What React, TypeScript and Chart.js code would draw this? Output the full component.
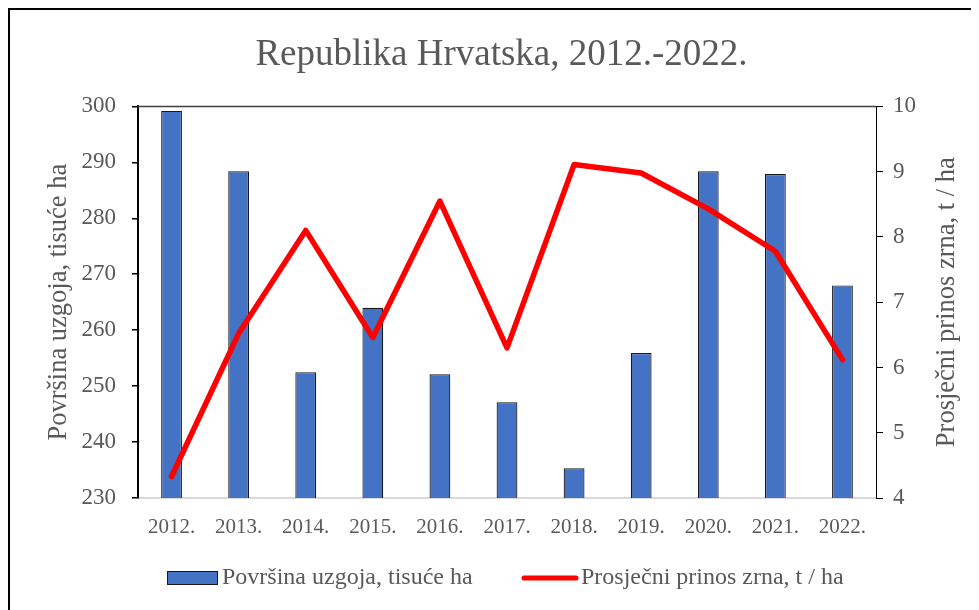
import React, { useEffect, useRef } from "react";
import { Chart, registerables } from "chart.js";

Chart.register(...registerables);

const years = ["2012.", "2013.", "2014.", "2015.", "2016.", "2017.", "2018.", "2019.", "2020.", "2021.", "2022."];
const areaValues = [299.2, 288.4, 252.5, 264.0, 252.1, 247.1, 235.3, 255.9, 288.4, 287.9, 268.0];
const yieldValues = [4.33, 6.52, 8.1, 6.46, 8.55, 6.3, 9.11, 8.98, 8.43, 7.78, 6.12];

const titleText = "Republika Hrvatska, 2012.-2022.";
const areaLabel = "Površina uzgoja, tisuće ha";
const yieldLabel = "Prosječni prinos zrna, t / ha";

const FONT = "'Liberation Serif', 'Times New Roman', serif";
const GREY = "#595959";
const BLUE = "#4472C4";
const RED = "#FF0000";

const frameLinePlugin = {
  id: "frameLine",
  afterDatasetsDraw(chart: any) {
    const { ctx, chartArea } = chart;
    ctx.save();
    ctx.strokeStyle = "#404040";
    ctx.lineWidth = 1.5;
    ctx.beginPath();
    ctx.moveTo(chartArea.left, chartArea.top);
    ctx.lineTo(chartArea.right, chartArea.top);
    ctx.stroke();
    ctx.restore();
  },
};

// right axis title, reading bottom-to-top like the left one
const rightTitlePlugin = {
  id: "rightTitle",
  afterDraw(chart: any) {
    const { ctx, chartArea } = chart;
    ctx.save();
    ctx.translate(937, (chartArea.top + chartArea.bottom) / 2);
    ctx.rotate(-Math.PI / 2);
    ctx.font = `26.5px ${FONT}`;
    ctx.fillStyle = GREY;
    ctx.textAlign = "center";
    ctx.textBaseline = "middle";
    ctx.fillText(yieldLabel, 0, 0);
    ctx.restore();
  },
};

const customLegendPlugin = {
  id: "customLegend",
  afterDraw(chart: any) {
    const { ctx } = chart;
    const ds = chart.data.datasets;
    const y = 568;
    ctx.save();
    ctx.font = `24px ${FONT}`;
    ctx.textBaseline = "middle";
    ctx.textAlign = "left";
    const bar = ds[1];
    ctx.fillStyle = bar.backgroundColor;
    ctx.fillRect(157, y - 7, 51, 14);
    ctx.strokeStyle = bar.borderColor;
    ctx.lineWidth = 1;
    ctx.strokeRect(157.5, y - 6.5, 50, 13);
    ctx.fillStyle = GREY;
    ctx.fillText(bar.label, 212, y);
    const line = ds[0];
    ctx.strokeStyle = line.borderColor;
    ctx.lineWidth = 5;
    ctx.lineCap = "round";
    ctx.beginPath();
    ctx.moveTo(514, y);
    ctx.lineTo(566, y);
    ctx.stroke();
    ctx.fillStyle = GREY;
    ctx.fillText(line.label, 571, y);
    ctx.restore();
  },
};

export default function App() {
  const canvasRef = useRef<HTMLCanvasElement | null>(null);

  useEffect(() => {
    document.body.style.overflow = "hidden";
    const canvas = canvasRef.current;
    if (!canvas) return;
    const chart = new Chart(canvas, {
      type: "bar",
      data: {
        labels: years,
        datasets: [
          {
            type: "line",
            label: yieldLabel,
            data: yieldValues,
            yAxisID: "y2",
            borderColor: RED,
            backgroundColor: RED,
            borderWidth: 5.5,
            pointRadius: 0,
            borderCapStyle: "round",
            borderJoinStyle: "round",
            tension: 0,
            order: 0,
          } as any,
          {
            type: "bar",
            label: areaLabel,
            data: areaValues,
            yAxisID: "y",
            backgroundColor: BLUE,
            borderColor: "#1a1a1a",
            borderWidth: 1.2,
            barPercentage: 0.62,
            categoryPercentage: 0.5,
            order: 1,
          } as any,
        ],
      },
      options: {
        responsive: false,
        animation: false,
        devicePixelRatio: 1,
        layout: { padding: { left: 14, right: 0, top: 0, bottom: 0 } },
        plugins: {
          legend: { display: false },
          tooltip: { enabled: false },
          title: {
            display: true,
            text: titleText,
            color: GREY,
            font: { family: FONT, size: 37, weight: "normal" },
            padding: { top: 23, bottom: 29 },
          },
        },
        scales: {
          x: {
            type: "category",
            offset: true,
            grid: { display: false },
            border: { display: true, color: "#d9d9d9", width: 2 },
            ticks: {
              color: GREY,
              font: { family: FONT, size: 21 },
              padding: 9,
              maxRotation: 0,
              autoSkip: false,
            },
            afterFit(scale: any) {
              scale.height = 112;
            },
          },
          y: {
            type: "linear",
            position: "left",
            min: 230,
            max: 300,
            ticks: {
              stepSize: 10,
              color: GREY,
              font: { family: FONT, size: 23 },
              padding: 16,
            },
            grid: {
              display: true,
              drawOnChartArea: false,
              drawTicks: true,
              tickLength: 6,
              color: "#000",
              lineWidth: 1.5,
            },
            border: { display: true, color: "#000", width: 2 },
            title: {
              display: true,
              text: areaLabel,
              color: GREY,
              font: { family: FONT, size: 26.5 },
              padding: { top: 19, bottom: 0 },
            },
            afterFit(scale: any) {
              scale.width = 114;
            },
          },
          y2: {
            type: "linear",
            position: "right",
            min: 4,
            max: 10,
            ticks: {
              stepSize: 1,
              color: GREY,
              font: { family: FONT, size: 23 },
              padding: 10,
            },
            grid: {
              display: true,
              drawOnChartArea: false,
              drawTicks: true,
              tickLength: 7,
              color: "#000",
              lineWidth: 1,
            },
            border: { display: true, color: "#000", width: 1 },
            afterFit(scale: any) {
              scale.width = 103;
            },
          },
        },
      } as any,
      plugins: [frameLinePlugin, rightTitlePlugin, customLegendPlugin],
    });
    return () => chart.destroy();
  }, []);

  return (
    <div
      style={{
        position: "relative",
        width: 971,
        height: 602,
        boxSizing: "border-box",
        borderTop: "2px solid #000",
        borderLeft: "2px solid #000",
        background: "#fff",
      }}
    >
      <canvas ref={canvasRef} width={969} height={600} style={{ display: "block", width: 969, height: 600 }} />
    </div>
  );
}
